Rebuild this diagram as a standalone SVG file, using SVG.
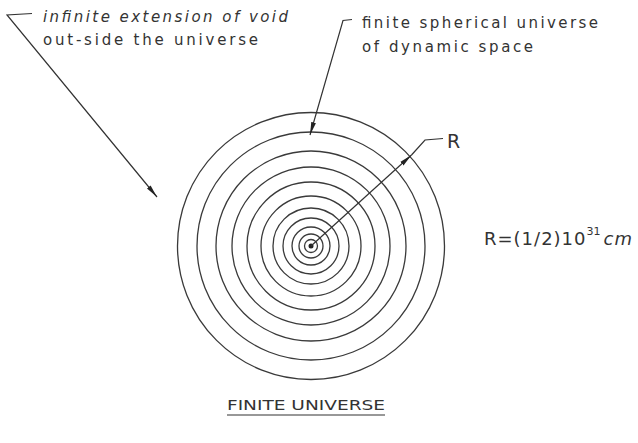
<svg xmlns="http://www.w3.org/2000/svg" width="638" height="443" viewBox="0 0 638 443">
<style>
.ring{fill:none;stroke:#3a3a3a;stroke-width:1.3}
.ln{fill:none;stroke:#333;stroke-width:1.2}
.t{font-family:"DejaVu Sans",sans-serif;fill:#333}
</style>
<defs>
<marker id="ah" markerUnits="userSpaceOnUse" markerWidth="14" markerHeight="6" refX="13" refY="3" orient="auto">
<path d="M0,0.6 L13,3 L0,5.4 z" fill="#222"/>
</marker>
</defs>
<rect width="638" height="443" fill="#fff"/>
<g id="universe">
<circle class="ring" cx="311" cy="246" r="133.5"/>
<circle class="ring" cx="311" cy="246" r="114"/>
<circle class="ring" cx="311" cy="246" r="95"/>
<circle class="ring" cx="311" cy="246" r="79"/>
<circle class="ring" cx="311" cy="246" r="64"/>
<circle class="ring" cx="311" cy="246" r="50"/>
<circle class="ring" cx="311" cy="246" r="38"/>
<circle class="ring" cx="311" cy="246" r="28"/>
<circle class="ring" cx="311" cy="246" r="19"/>
<circle class="ring" cx="311" cy="246" r="12"/>
<circle class="ring" cx="311" cy="246" r="6.5"/>
<circle cx="311" cy="246" r="2.5" fill="#222"/>
</g>
<g id="connectors">
<polyline class="ln" points="32,13.5 7,15 157,197" marker-end="url(#ah)"/>
<polyline class="ln" points="352,19.5 343,20.5 310,135" marker-end="url(#ah)"/>
<line class="ln" x1="311" y1="246" x2="411.5" y2="155" marker-end="url(#ah)"/>
<polyline class="ln" points="411.5,155 425,140 443,138.5"/>
</g>
<g id="label-void">
<text class="t" x="43" y="22" font-size="15" font-style="italic" textLength="245" lengthAdjust="spacing">infinite extension of void</text>
<text class="t" x="43" y="45" font-size="15" textLength="215" lengthAdjust="spacing">out-side the universe</text>
</g>
<g id="label-finite">
<text class="t" x="362" y="28" font-size="15" textLength="236" lengthAdjust="spacing">finite spherical universe</text>
<text class="t" x="362" y="52" font-size="15" textLength="171" lengthAdjust="spacing">of dynamic space</text>
</g>
<g id="label-R">
<text class="t" x="447" y="148" font-size="19">R</text>
</g>
<g id="formula">
<text class="t" x="484" y="245" font-size="18" letter-spacing="1">R=(1/2)10<tspan dy="-10" font-size="11" letter-spacing="0">31</tspan><tspan dy="10" dx="3" font-style="italic">cm</tspan></text>
</g>
<g id="title">
<text class="t" x="227" y="410" font-size="14" textLength="158" lengthAdjust="spacingAndGlyphs">FINITE UNIVERSE</text>
<line class="ln" x1="227" y1="415" x2="385" y2="415" stroke-width="1.5"/>
</g>
</svg>
